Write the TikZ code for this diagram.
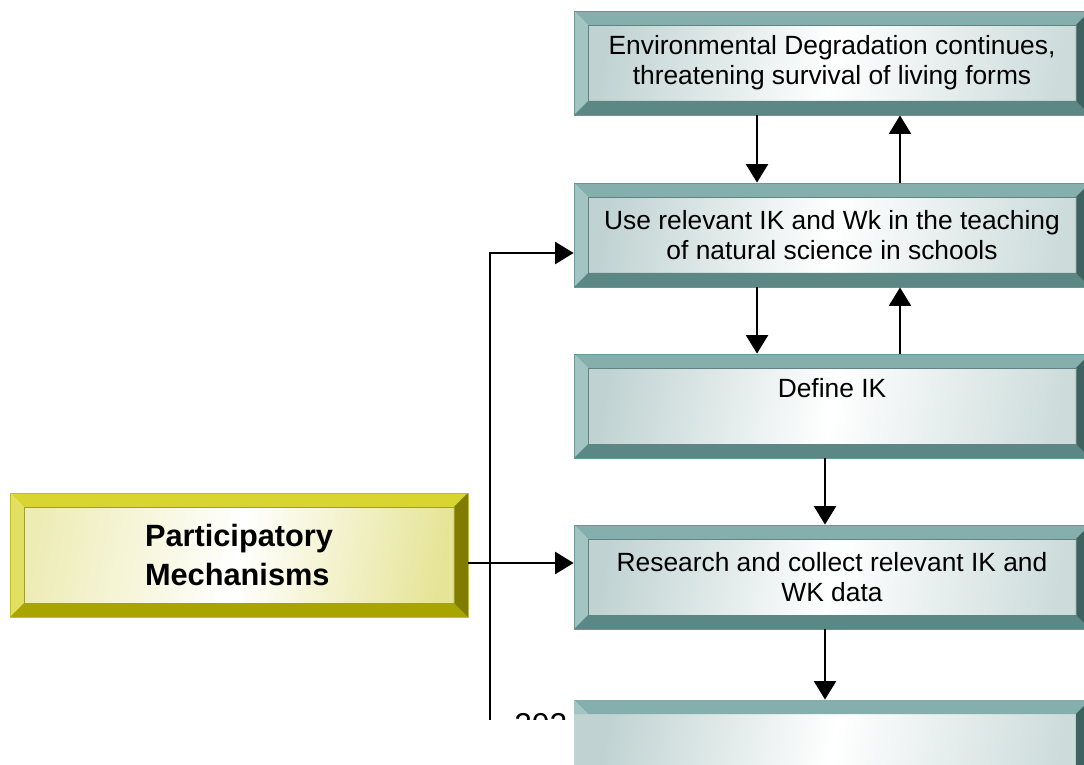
\documentclass[tikz,border=0pt]{standalone}
\usepackage{fontspec}
\setmainfont{Liberation Sans}
\usetikzlibrary{arrows.meta, calc, positioning}
\definecolor{TealTop}{RGB}{132,175,173}
\definecolor{TealLeft}{RGB}{162,196,194}
\definecolor{TealBot}{RGB}{91,135,133}
\definecolor{TealRight}{RGB}{61,98,95}
\definecolor{TealEdge}{RGB}{101,153,151}
\definecolor{TealPale}{RGB}{192,211,210}
\definecolor{OliveTop}{RGB}{216,213,48}
\definecolor{OliveLeft}{RGB}{226,224,98}
\definecolor{OliveBot}{RGB}{169,165,0}
\definecolor{OliveRight}{RGB}{128,124,0}
\definecolor{OliveEdge}{RGB}{200,196,0}
\definecolor{OlivePale}{RGB}{230,228,150}
\newlength{\bev}
\setlength{\bev}{0.28cm}
% bevelled frame drawn inside a node: top, left, bottom, right
\newcommand{\bevelframe}[4]{%
  \coordinate (bNW) at (path picture bounding box.north west);
  \coordinate (bNE) at (path picture bounding box.north east);
  \coordinate (bSW) at (path picture bounding box.south west);
  \coordinate (bSE) at (path picture bounding box.south east);
  \fill[#1] (bNW) -- (bNE) -- ($(bNE)+(-\bev,-\bev)$) -- ($(bNW)+(\bev,-\bev)$) -- cycle;
  \fill[#2] (bNW) -- ($(bNW)+(\bev,-\bev)$) -- ($(bSW)+(\bev,\bev)$) -- (bSW) -- cycle;
  \fill[#3] (bSW) -- ($(bSW)+(\bev,\bev)$) -- ($(bSE)+(-\bev,\bev)$) -- (bSE) -- cycle;
  \fill[#4] (bNE) -- (bSE) -- ($(bSE)+(-\bev,\bev)$) -- ($(bNE)+(-\bev,-\bev)$) -- cycle;
  \draw[#1!75!black, line width=0.3pt] ($(bNW)+(\bev,-\bev)$) rectangle ($(bSE)+(-\bev,\bev)$);
}
% same frame, cut off below the top bevel
\newcommand{\bevelcut}[3]{%
  \coordinate (bNW) at (path picture bounding box.north west);
  \coordinate (bNE) at (path picture bounding box.north east);
  \coordinate (bSE) at (path picture bounding box.south east);
  \fill[#1] (bNW) -- (bNE) -- ($(bNE)+(-\bev,-\bev)$) -- ($(bNW)+(\bev,-\bev)$) -- cycle;
  \fill[#2] (bNW) -- ($(bNW)+(\bev,-\bev)$) -- ($(bNW)+(0,-\bev)$) -- cycle;
  \fill[#3] (bNE) -- (bSE) -- ($(bSE)+(-\bev,0)$) -- ($(bNE)+(-\bev,-\bev)$) -- cycle;
}
\tikzset{
  tealbox/.style={
    rectangle, minimum width=10.32cm, minimum height=2.08cm,
    draw=TealEdge, line width=0.5pt,
    left color=TealPale, right color=TealPale!80, middle color=white,
    shading angle=80, align=center,
    font=\fontsize{15}{17}\selectfont,
    path picture={\bevelframe{TealTop}{TealLeft}{TealBot}{TealRight}}
  },
  tealcut/.style={
    tealbox, draw=none,
    path picture={\bevelcut{TealTop}{TealLeft}{TealRight}}
  },
  olivebox/.style={
    rectangle, minimum width=9.16cm, minimum height=2.48cm,
    draw=OliveEdge, line width=0.5pt,
    left color=OlivePale!70, right color=OlivePale, middle color=white,
    shading angle=80, align=left,
    font=\fontsize{17.5}{22.5}\selectfont\bfseries,
    path picture={\bevelframe{OliveTop}{OliveLeft}{OliveBot}{OliveRight}}
  },
  arr/.style={-{Triangle[length=10.5pt,width=12.5pt]}, draw=black, line width=1.3pt}
}

\begin{document}
\begin{tikzpicture}[x=0.02cm, y=-0.02cm]

  \clip (0,0) rectangle (1084,764);
  \fill[white] (0,0) rectangle (1084,764);

  % ── Right column ──
  \node[tealbox] (env)  at (832, 63)  {Environmental Degradation continues,\\threatening survival of living forms};
  \node[tealbox] (use)  at (832, 235) {Use relevant IK and Wk in the teaching\\of natural science in schools};
  \node[tealbox, text depth=21pt] (def) at (832, 406) {Define IK};
  \node[tealbox] (res)  at (832, 577) {Research and collect relevant IK and\\WK data};
  \node[tealcut] (next) at (832, 752) {};

  % ── Left box ──
  \node[olivebox] (pm) at (239, 555) {Participatory\\Mechanisms};

  % ── Page number, cut off ──
  \begin{scope}
    \clip (480,0) rectangle (574,719);
    \node[anchor=base west, inner sep=0pt, font=\fontsize{18}{20}\selectfont] (pg) at (514, 735) {202};
  \end{scope}

  % ── Arrows ──
  \draw[arr] ([xshift=-1.5cm]env.south) -- ([xshift=-1.5cm]use.north);
  \draw[arr] ([xshift=1.36cm]use.north) -- ([xshift=1.36cm]env.south);
  \draw[arr] ([xshift=-1.5cm]use.south) -- ([xshift=-1.5cm]def.north);
  \draw[arr] ([xshift=1.36cm]def.north) -- ([xshift=1.36cm]use.south);
  \draw[arr] ([xshift=-0.14cm]def.south) -- ([xshift=-0.14cm]res.north);
  \draw[arr] ([xshift=-0.14cm]res.south) -- ([xshift=-0.14cm]next.north);
  \draw[arr] ([yshift=-0.16cm]pm.east) -- ([yshift=-0.16cm]pm.east -| res.west);
  \coordinate (feed) at (490, 720);
  \draw[arr] (feed) |- ([yshift=-0.36cm]use.west);

\end{tikzpicture}
\end{document}
